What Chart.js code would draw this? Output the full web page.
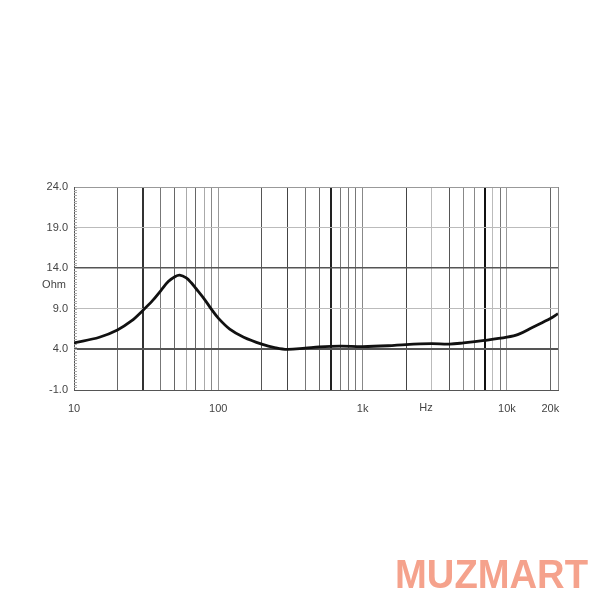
<!DOCTYPE html>
<html>
<head>
<meta charset="utf-8">
<script src="https://cdn.jsdelivr.net/npm/chart.js@4.4.1/dist/chart.umd.min.js"></script>
<style>
  html, body { margin: 0; padding: 0; background: #ffffff; }
  #wrap { width: 600px; height: 600px; position: relative; }
</style>
</head>
<body>
<div id="wrap"><canvas id="c"></canvas></div>
<script>
// ---- data ----
const freqHz = [10, 15, 20, 25, 30, 35, 40, 45, 50, 54, 60, 65, 70, 80, 90, 100, 120, 150, 200, 250, 300, 400, 500, 700, 1000, 1500, 2000, 3000, 4000, 5000, 7000, 10000, 12000, 15000, 20000, 22600];
const impedanceOhm = [4.8, 5.5, 6.4, 7.5, 8.8, 10.0, 11.25, 12.35, 12.95, 13.15, 12.8, 12.2, 11.5, 10.2, 8.9, 7.85, 6.5, 5.5, 4.65, 4.2, 4.0, 4.15, 4.3, 4.4, 4.35, 4.45, 4.6, 4.7, 4.65, 4.8, 5.1, 5.5, 5.85, 6.7, 7.8, 8.4];
const xGridFreqs = [10, 20, 30, 40, 50, 60, 70, 80, 90, 100, 200, 300, 400, 500, 600, 700, 800, 900, 1000, 2000, 3000, 4000, 5000, 6000, 7000, 8000, 9000, 10000, 20000, 22600];
const xTickLabels = { 10: '10', 100: '100', 1000: '1k', 10000: '10k', 20000: '20k' };
const xUnitLabel = 'Hz';
const xUnitAt = 2750;
const xMin = 10, xMax = 22600;
const yTicks = [-1, 4, 9, 14, 19, 24];
const yMin = -1, yMax = 24;
const yUnitLabel = 'Ohm';
const yUnitAt = 11.9;
const watermark = 'MUZMART';

// ---- styles ----
const vLineStyle = {
  10: ['#666', 1], 20: ['#666', 1], 30: ['#333', 2], 40: ['#777', 1], 50: ['#666', 1],
  60: ['#aaa', 1], 70: ['#666', 1], 80: ['#aaa', 1], 90: ['#888', 1], 100: ['#999', 1],
  200: ['#555', 1], 300: ['#444', 1], 400: ['#777', 1], 500: ['#666', 1], 600: ['#222', 2],
  700: ['#777', 1], 800: ['#777', 1], 900: ['#777', 1], 1000: ['#888', 1], 2000: ['#444', 1],
  3000: ['#bbb', 1], 4000: ['#555', 1], 5000: ['#888', 1], 6000: ['#888', 1], 7000: ['#111', 2],
  8000: ['#bbb', 1], 9000: ['#777', 1], 10000: ['#999', 1], 20000: ['#666', 1], 22600: ['#888', 1]
};
const hLineStyle = {
  '-1': ['#555', 1], 4: ['#555', 2], 9: ['#bbb', 1], 14: ['#555', 1.5], 19: ['#bbb', 1], 24: ['#999', 1]
};

const labelFont = { family: '"Liberation Sans", Arial, sans-serif', size: 11 };

const extrasPlugin = {
  id: 'extras',
  beforeDatasetsDraw(chart) {
    const ctx = chart.ctx;
    const y = chart.scales.y;
    const left = chart.chartArea.left;
    ctx.save();
    ctx.strokeStyle = '#aaa';
    ctx.lineWidth = 1;
    const n = (yMax - yMin) * 3;
    for (let i = 1; i < n; i++) {
      const v = yMin + i / 3;
      const py = Math.round(y.getPixelForValue(v)) + 0.5;
      ctx.beginPath();
      ctx.moveTo(left, py);
      ctx.lineTo(left + 3, py);
      ctx.stroke();
    }
    ctx.restore();
  },
  afterDraw(chart) {
    const ctx = chart.ctx;
    const x = chart.scales.x;
    const y = chart.scales.y;
    ctx.save();
    ctx.fillStyle = '#444';
    ctx.font = '11px "Liberation Sans", Arial, sans-serif';
    ctx.textAlign = 'center';
    ctx.textBaseline = 'middle';
    ctx.fillText(yUnitLabel, chart.chartArea.left - 20, y.getPixelForValue(yUnitAt));
    ctx.fillText(xUnitLabel, x.getPixelForValue(xUnitAt), chart.chartArea.bottom + 18);
    // watermark
    ctx.fillStyle = '#f5a28c';
    ctx.font = 'bold 41px "Liberation Sans", Arial, sans-serif';
    ctx.textAlign = 'right';
    ctx.textBaseline = 'alphabetic';
    ctx.fillText(watermark, 588, 588, 193);
    ctx.restore();
  }
};

new Chart(document.getElementById('c'), {
  type: 'line',
  data: {
    datasets: [{
      data: freqHz.map((f, i) => ({ x: f, y: impedanceOhm[i] })),
      borderColor: '#111',
      borderWidth: 2.8,
      pointRadius: 0,
      tension: 0.35,
      fill: false
    }]
  },
  options: {
    responsive: true,
    maintainAspectRatio: false,
    animation: false,
    layout: { padding: { top: 187, right: 42, left: 0, bottom: 0 } },
    plugins: { legend: { display: false }, tooltip: { enabled: false } },
    scales: {
      x: {
        type: 'logarithmic',
        min: xMin,
        max: xMax,
        afterBuildTicks: s => { s.ticks = xGridFreqs.map(v => ({ value: v })); },
        afterFit: s => { s.height = 210; },
        ticks: {
          autoSkip: false, maxRotation: 0, minRotation: 0,
          padding: 12,
          color: '#444',
          font: labelFont,
          callback: (v, i, t) => xTickLabels[t[i].value] || ''
        },
        grid: {
          drawTicks: false,
          color: c => (c.tick && vLineStyle[c.tick.value]) ? vLineStyle[c.tick.value][0] : '#777',
          lineWidth: c => (c.tick && vLineStyle[c.tick.value]) ? vLineStyle[c.tick.value][1] : 1
        },
        border: { display: true, color: '#555', width: 1 }
      },
      y: {
        type: 'linear',
        min: yMin,
        max: yMax,
        afterBuildTicks: s => { s.ticks = yTicks.map(v => ({ value: v })); },
        afterFit: s => { s.width = 74; },
        ticks: {
          padding: 6,
          color: '#444',
          font: labelFont,
          callback: v => Number(v).toFixed(1)
        },
        grid: {
          drawTicks: false,
          color: c => (c.tick && hLineStyle[c.tick.value]) ? hLineStyle[c.tick.value][0] : '#999',
          lineWidth: c => (c.tick && hLineStyle[c.tick.value]) ? hLineStyle[c.tick.value][1] : 1
        },
        border: { display: true, color: '#555', width: 1 }
      }
    }
  },
  plugins: [extrasPlugin]
});
</script>
</body>
</html>
